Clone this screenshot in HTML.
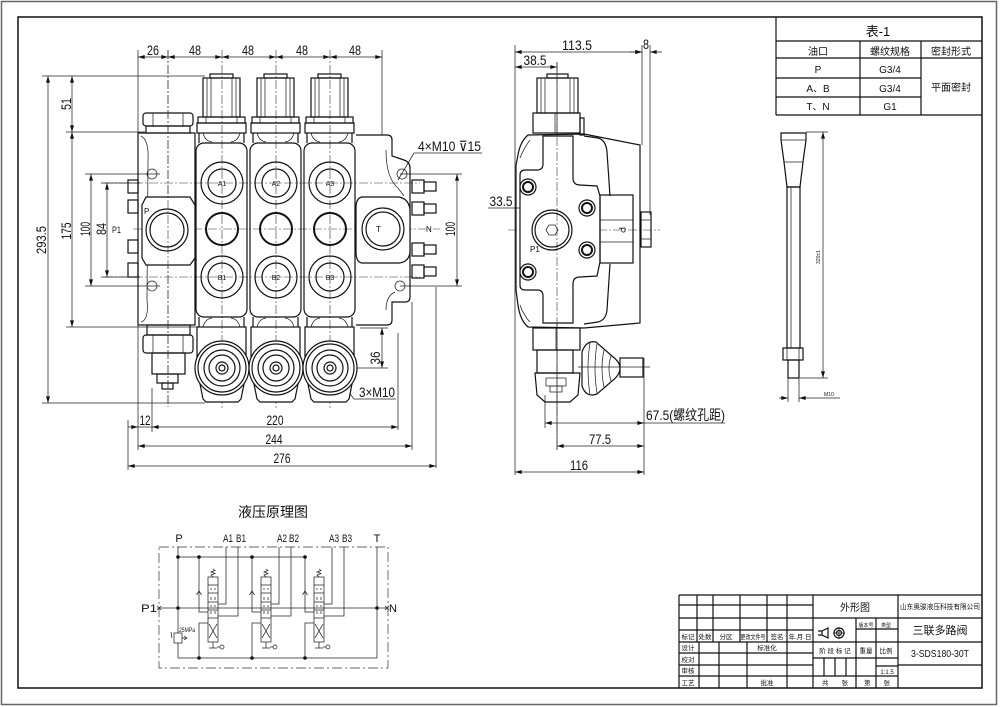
<!DOCTYPE html>
<html><head><meta charset="utf-8"><style>
html,body{margin:0;padding:0;background:#fff}
svg{display:block}
.l{stroke:#111;stroke-width:1.2;fill:none}
.w{stroke:#111;stroke-width:1.2;fill:#fff}
.t{stroke:#222;stroke-width:0.75;fill:none}
.c{stroke:#333;stroke-width:0.6;fill:none;stroke-dasharray:9 2 2 2}
.k{stroke:#111;stroke-width:2;fill:none}
text{font-family:"Liberation Sans",sans-serif;fill:#111}
.cj{font-family:"Liberation Sans","Noto Sans CJK SC",sans-serif}
</style></head><body>
<svg width="1000" height="707" viewBox="0 0 1000 707" xmlns="http://www.w3.org/2000/svg">
<defs>
<marker id="ar" viewBox="0 0 10 6" refX="10" refY="3" markerWidth="9" markerHeight="4" orient="auto-start-reverse" markerUnits="userSpaceOnUse"><path d="M0,0 L10,3 L0,6 z" fill="#111"/></marker>
<g id="sec">
 <rect class="l" x="210" y="74" width="23" height="4"/>
 <rect class="l" x="203" y="78" width="37" height="39"/>
 <path class="t" d="M207,78V117M211,78V117M232,78V117M236,78V117"/>
 <rect class="l" x="198" y="117" width="47" height="6"/>
 <path class="t" d="M206,117V123M237,117V123"/>
 <rect class="l" x="197" y="123" width="49" height="10"/>
 <path class="l" d="M199,133 L199,143 M244,133 L244,143"/>
 <path class="t" d="M203,133 Q205,141 212,142 M240,133 Q238,141 231,142"/>
 <rect class="l" x="196" y="143" width="51" height="174" rx="8"/>
 <circle class="l" cx="222" cy="183" r="21"/>
 <circle class="l" cx="222" cy="183" r="14"/>
 <circle class="k" cx="222" cy="229" r="16"/>
 <circle class="l" cx="222" cy="277" r="21"/>
 <circle class="l" cx="222" cy="277" r="14"/>
 <path class="l" d="M199,317 L199,327 M244,317 L244,327"/>
 <path class="t" d="M203,327 Q205,319 212,318 M240,327 Q238,319 231,318"/>
 <rect class="l" x="197" y="327" width="49" height="30"/>
 <path class="w" d="M200,384 L244,384 L241,399 L238,402 L206,402 L203,399 Z"/>
 <circle class="w" cx="222" cy="368" r="27"/>
 <circle class="l" cx="222" cy="368" r="24"/>
 <circle class="l" cx="222" cy="368" r="18"/>
 <circle class="l" cx="222" cy="368" r="13"/>
 <circle class="l" cx="222" cy="368" r="6"/>
 <circle class="l" cx="222" cy="368" r="3"/>
</g>
<g id="vv">
 <path class="t" d="M0,557 V612 H9 M0,658 V623 H9"/>
 <path class="t" d="M-2.5,595 L0,591 L2.5,595"/>
 <rect class="t" x="9" y="577" width="10" height="65"/>
 <path class="t" d="M9,585H19M9,593H19M9,602H19M9,610H19M9,618H19"/>
 <path class="t" d="M11,589h2M15,589h2M12,597v3M16,597v3M11,606h2M15,606h2M12,614v-3M16,614v-3"/>
 <path class="t" d="M10,624 L18,638 M18,624 L10,638"/>
 <path class="t" d="M14,577 L12,575 L16,573.5 L12,572 L16,570.5 L14,569"/>
 <path class="t" d="M14,642 V648 M10,648 H18 M18,647 H21"/>
 <circle class="t" cx="23" cy="647" r="2"/>
 <path class="t" d="M27,547 V604 H19 M39,547 V616 H19"/>
</g>
</defs>
<rect width="1000" height="707" fill="#fff"/>
<!-- frames -->
<rect x="1.5" y="1.5" width="995" height="703" fill="none" stroke="#666" stroke-width="1.5"/>
<rect x="18" y="17" width="964" height="671" fill="none" stroke="#111" stroke-width="1.5"/>

<!-- ===== FRONT VIEW ===== -->
<path class="c" d="M168,50V407 M222,50V408 M276,50V408 M330,50V408"/>
<path class="c" d="M104,183H420 M133,229H440 M104,277H420"/>
<path class="t" d="M138,50V133 M382,50V135 M42,76H205 M42,403H205 M66,132H145 M66,327H200 M85,174H160 M85,286H160 M101,183H140 M101,277H140 M400,174H462 M400,286H462 M360,328H388 M195,368H388 M128,420V470 M138,325V450 M152,388V432 M398,333V430 M412,302V450 M436,287V468"/>
<line class="t" x1="138" y1="57" x2="168" y2="57" marker-start="url(#ar)" marker-end="url(#ar)"/>
<line class="t" x1="168" y1="57" x2="222" y2="57" marker-start="url(#ar)" marker-end="url(#ar)"/>
<line class="t" x1="222" y1="57" x2="276" y2="57" marker-start="url(#ar)" marker-end="url(#ar)"/>
<line class="t" x1="276" y1="57" x2="330" y2="57" marker-start="url(#ar)" marker-end="url(#ar)"/>
<line class="t" x1="330" y1="57" x2="382" y2="57" marker-start="url(#ar)" marker-end="url(#ar)"/>
<g font-size="14" text-anchor="middle">
<text x="153" y="55" textLength="12" lengthAdjust="spacingAndGlyphs">26</text>
<text x="195" y="55" textLength="12" lengthAdjust="spacingAndGlyphs">48</text>
<text x="248" y="55" textLength="12" lengthAdjust="spacingAndGlyphs">48</text>
<text x="302" y="55" textLength="12" lengthAdjust="spacingAndGlyphs">48</text>
<text x="355" y="55" textLength="12" lengthAdjust="spacingAndGlyphs">48</text>
</g>
<line class="t" x1="48" y1="76" x2="48" y2="403" marker-start="url(#ar)" marker-end="url(#ar)"/>
<line class="t" x1="72" y1="76" x2="72" y2="132" marker-start="url(#ar)" marker-end="url(#ar)"/>
<line class="t" x1="72" y1="132" x2="72" y2="327" marker-start="url(#ar)" marker-end="url(#ar)"/>
<line class="t" x1="91" y1="174" x2="91" y2="286" marker-start="url(#ar)" marker-end="url(#ar)"/>
<line class="t" x1="107" y1="183" x2="107" y2="277" marker-start="url(#ar)" marker-end="url(#ar)"/>
<g font-size="14" text-anchor="middle">
<text transform="translate(46,240) rotate(-90)" textLength="28" lengthAdjust="spacingAndGlyphs">293.5</text>
<text transform="translate(71,104) rotate(-90)" textLength="12" lengthAdjust="spacingAndGlyphs">51</text>
<text transform="translate(71,231) rotate(-90)" textLength="17" lengthAdjust="spacingAndGlyphs">175</text>
<text transform="translate(90,229) rotate(-90)" textLength="14" lengthAdjust="spacingAndGlyphs">100</text>
<text transform="translate(106,229) rotate(-90)" textLength="12" lengthAdjust="spacingAndGlyphs">84</text>
<text transform="translate(455,229) rotate(-90)" textLength="14" lengthAdjust="spacingAndGlyphs">100</text>
<text transform="translate(380,358) rotate(-90)" textLength="13" lengthAdjust="spacingAndGlyphs">36</text>
</g>
<text x="112" y="233" font-size="9" textLength="9" lengthAdjust="spacingAndGlyphs">P1</text>
<line class="t" x1="457" y1="174" x2="457" y2="286" marker-start="url(#ar)" marker-end="url(#ar)"/>
<line class="t" x1="382" y1="328" x2="382" y2="368" marker-start="url(#ar)" marker-end="url(#ar)"/>
<line class="t" x1="128" y1="427" x2="138" y2="427" marker-end="url(#ar)"/>
<line class="t" x1="138" y1="427" x2="152" y2="427"/>
<line class="t" x1="152" y1="427" x2="398" y2="427" marker-start="url(#ar)" marker-end="url(#ar)"/>
<line class="t" x1="138" y1="446" x2="412" y2="446" marker-start="url(#ar)" marker-end="url(#ar)"/>
<line class="t" x1="128" y1="466" x2="436" y2="466" marker-start="url(#ar)" marker-end="url(#ar)"/>
<g font-size="14" text-anchor="middle">
<text x="145" y="425" textLength="11" lengthAdjust="spacingAndGlyphs">12</text>
<text x="275" y="425" textLength="17" lengthAdjust="spacingAndGlyphs">220</text>
<text x="274" y="444" textLength="17" lengthAdjust="spacingAndGlyphs">244</text>
<text x="282" y="463" textLength="17" lengthAdjust="spacingAndGlyphs">276</text>
</g>
<path class="t" d="M482,153 H414 L398,180"/>
<text x="418" y="151" font-size="14" textLength="63" lengthAdjust="spacingAndGlyphs">4×M10 ⊽15</text>
<path class="t" d="M396,399 H354 L330,368"/>
<text x="359" y="397" font-size="14" textLength="36" lengthAdjust="spacingAndGlyphs">3×M10</text>

<!-- left inlet section -->
<rect class="l" x="128" y="180" width="10" height="13"/>
<rect class="l" x="128" y="200" width="10" height="13"/>
<rect class="l" x="128" y="240" width="10" height="13"/>
<rect class="l" x="128" y="263" width="10" height="14"/>
<rect class="l" x="143" y="113" width="50" height="13" rx="3"/>
<path class="t" d="M153,113V126M183,113V126"/>
<rect class="l" x="146" y="126" width="44" height="7"/>
<rect class="l" x="138" y="133" width="57" height="192"/>
<path class="t" d="M141,136 Q149,140 148,160 L147,300 Q149,320 141,322"/>
<circle class="t" cx="152" cy="174" r="5"/>
<circle class="t" cx="152" cy="286" r="5"/>
<path class="w" d="M146,197 L190,197 L195,205 L195,258 L190,265 L146,265 L142,258 L142,205 Z"/>
<circle class="l" cx="167" cy="230" r="21"/>
<circle class="l" cx="167" cy="230" r="17"/>
<text x="144" y="214" font-size="8">P</text>
<rect class="l" x="147" y="325" width="43" height="10"/>
<rect class="l" x="143" y="335" width="50" height="18" rx="3"/>
<path class="t" d="M153,335V353M183,335V353"/>
<rect class="l" x="152" y="353" width="33" height="21"/>
<rect class="l" x="157" y="374" width="21" height="9"/>
<rect class="l" x="162" y="383" width="11" height="6"/>
<path class="c" d="M168,50V407"/>

<use href="#sec"/>
<use href="#sec" x="54"/>
<use href="#sec" x="108"/>
<g font-size="7" text-anchor="middle">
<text x="222" y="186">A1</text><text x="276" y="186">A2</text><text x="330" y="186">A3</text>
<text x="222" y="280">B1</text><text x="276" y="280">B2</text><text x="330" y="280">B3</text>
</g>

<!-- right outlet section -->
<path class="l" d="M356,135 L387,135 Q392,135 392,140 L392,156 L404,160 Q410,162 410,168 L410,297 Q410,302 405,302 L392,302 L392,320 Q392,325 387,325 L356,325"/>
<path class="t" d="M386,150 Q386,178 398,188 L404,196 M386,310 Q386,296 395,292"/>
<circle class="t" cx="402" cy="174" r="5"/>
<circle class="t" cx="400" cy="286" r="5"/>
<path class="w" d="M362,197 L399,197 Q409,199 410,210 L410,252 Q409,262 399,263 L362,263 Q356,262 356,252 L356,208 Q356,198 362,197 Z"/>
<circle class="l" cx="383" cy="229" r="21"/>
<circle class="l" cx="383" cy="229" r="17"/>
<text x="376" y="232" font-size="8">T</text>
<text x="426" y="232" font-size="8">N</text>
<g class="l">
<rect x="412" y="180" width="12" height="13"/><rect x="424" y="182" width="12" height="9"/>
<rect x="412" y="202" width="12" height="13"/><rect x="424" y="204" width="12" height="9"/>
<rect x="412" y="243" width="12" height="13"/><rect x="424" y="245" width="12" height="9"/>
<rect x="412" y="265" width="12" height="13"/><rect x="424" y="267" width="12" height="9"/>
</g>

<!-- ===== SIDE VIEW ===== -->
<path class="t" d="M515,45V475 M642,45V145 M650,45V215 M557,62V450 M644,358V475 M545,395V428"/>
<path class="c" d="M508,230H660"/>
<line class="t" x1="515" y1="52" x2="642" y2="52" marker-start="url(#ar)" marker-end="url(#ar)"/>
<line class="t" x1="630" y1="52" x2="642" y2="52" marker-end="url(#ar)"/>
<line class="t" x1="662" y1="52" x2="650" y2="52" marker-end="url(#ar)"/>
<line class="t" x1="515" y1="67" x2="557" y2="67" marker-start="url(#ar)" marker-end="url(#ar)"/>
<g font-size="14" text-anchor="middle">
<text x="577" y="50" textLength="30" lengthAdjust="spacingAndGlyphs">113.5</text>
<text x="646" y="49" textLength="6" lengthAdjust="spacingAndGlyphs">8</text>
<text x="535" y="65" textLength="23" lengthAdjust="spacingAndGlyphs">38.5</text>
<text x="501" y="206" textLength="23" lengthAdjust="spacingAndGlyphs">33.5</text>
<text x="600" y="444" textLength="22" lengthAdjust="spacingAndGlyphs">77.5</text>
<text x="579" y="470" textLength="18" lengthAdjust="spacingAndGlyphs">116</text>
</g>
<path class="t" d="M488,208H548"/>
<line class="t" x1="545" y1="423" x2="644" y2="423" marker-start="url(#ar)" marker-end="url(#ar)"/>
<line class="t" x1="557" y1="446" x2="644" y2="446" marker-start="url(#ar)" marker-end="url(#ar)"/>
<line class="t" x1="515" y1="472" x2="644" y2="472" marker-start="url(#ar)" marker-end="url(#ar)"/>
<path class="t" d="M644,423H725"/>
<text x="646" y="420" font-size="14" class="cj" textLength="79" lengthAdjust="spacingAndGlyphs">67.5(螺纹孔距)</text>
<rect class="l" x="547" y="74" width="21" height="4"/>
<rect class="l" x="537" y="78" width="41" height="35"/>
<path class="t" d="M541,78V113M545,78V113M570,78V113M574,78V113"/>
<rect class="l" x="533" y="113" width="47" height="20"/>
<path class="t" d="M555,113V133"/>
<rect class="l" x="580" y="118" width="4" height="17"/>
<path class="l" d="M528,135 L584,134 L640,145 L640,323 L584,328 L528,327 Q520,320 518,305 L516,290 L516,165 L518,155 Q520,142 528,135 Z"/>
<path class="t" d="M520,158 Q524,148 530,140 M520,305 Q524,316 530,322"/>
<path class="l" d="M584,136 L598,138 Q606,140 607,152 L610,196 M610,264 L607,310 Q606,320 598,322 L584,324"/>
<path class="w" d="M543,136 L573,136 L573,178 Q573,185 580,185 L597,186 L600,196 L600,262 L597,276 L580,277 Q573,277 573,284 L573,323 L543,323 L543,296 Q543,290 537,290 L525,290 Q520,290 520,285 L520,175 Q520,170 525,170 L537,170 Q543,170 543,164 Z"/>
<path class="c" d="M557,62V450"/>
<rect class="l" x="600" y="195" width="33" height="68"/>
<path class="t" d="M600,220H633M600,242H633"/>
<rect class="l" x="641" y="212" width="10" height="35"/>
<path class="t" d="M641,220H651M641,239H651"/>
<text transform="translate(619,230) rotate(90)" font-size="9" text-anchor="middle">P</text>
<g>
<circle class="l" cx="528" cy="187" r="8"/><circle class="k" cx="528" cy="187" r="5" stroke-width="1.6"/>
<circle class="l" cx="528" cy="272" r="8"/><circle class="k" cx="528" cy="272" r="5" stroke-width="1.6"/>
<circle class="l" cx="587" cy="208" r="8"/><circle class="k" cx="587" cy="208" r="5" stroke-width="1.6"/>
<circle class="l" cx="587" cy="250" r="8"/><circle class="k" cx="587" cy="250" r="5" stroke-width="1.6"/>
</g>
<circle class="l" cx="552" cy="230" r="20"/>
<circle class="l" cx="552" cy="230" r="17"/>
<path class="t" d="M546,230 L549,225 L555,225 L558,230 L555,235 L549,235 Z"/>
<text x="530" y="252" font-size="8">P1</text>
<rect class="l" x="533" y="328" width="47" height="22"/>
<path class="t" d="M556,328V350"/>
<rect class="l" x="537" y="350" width="36" height="23"/>
<path class="l" d="M535,373 L580,373 L578,395 L570,402 L545,402 L537,395 Z"/>
<rect class="t" x="546" y="378" width="20" height="8"/>
<rect class="t" x="550" y="386" width="12" height="6"/>
<path class="l" d="M582,352 Q586,340 596,342 L612,356 Q620,362 620,368 Q620,375 612,381 L597,394 Q586,398 582,386 Z"/>
<path class="t" d="M590,343 Q586,368 590,395 M597,344 Q593,368 597,393 M604,350 Q600,368 604,387 M611,356 Q607,368 611,381"/>
<rect class="l" x="620" y="358" width="23" height="19"/>
<path class="t" d="M578,367H650"/>

<!-- ===== TABLE ===== -->
<path class="l" d="M776,17V115 M776,41H982 M776,58H982 M776,78H921 M776,97H921 M776,115H982 M860,41V115 M921,41V115"/>
<g class="cj" text-anchor="middle">
<text x="878" y="36" font-size="13">表-1</text>
<text x="818" y="55" font-size="10">油口</text>
<text x="890" y="55" font-size="10">螺纹规格</text>
<text x="951" y="55" font-size="10">密封形式</text>
<text x="818" y="73" font-size="10">P</text>
<text x="890" y="73" font-size="10">G3/4</text>
<text x="818" y="92" font-size="10">A、B</text>
<text x="890" y="92" font-size="10">G3/4</text>
<text x="818" y="110" font-size="10">T、N</text>
<text x="890" y="110" font-size="10">G1</text>
<text x="951" y="91" font-size="10">平面密封</text>
</g>

<!-- ===== HANDLE ===== -->
<path class="l" d="M781,133 L806,133 L806,140 L803,162 L800,187 L787,187 L784,162 L781,140 Z"/>
<path class="t" d="M781,140H806M784,162H803"/>
<rect class="l" x="787" y="187" width="13" height="161"/>
<path class="t" d="M791,187V348"/>
<rect class="l" x="783" y="348" width="20" height="12"/>
<path class="t" d="M787,348V360M799,348V360"/>
<rect class="l" x="788" y="360" width="11" height="18"/>
<path class="t" d="M806,132H828 M800,378H828 M788,378V402 M799,378V402"/>
<line class="t" x1="823" y1="132" x2="823" y2="378" marker-start="url(#ar)" marker-end="url(#ar)"/>
<line class="t" x1="779" y1="398" x2="788" y2="398" marker-end="url(#ar)"/>
<line class="t" x1="840" y1="398" x2="799" y2="398" marker-end="url(#ar)"/>
<text transform="translate(820,257) rotate(-90)" font-size="5" text-anchor="middle">320±1</text>
<text x="824" y="396" font-size="5">M10</text>

<!-- ===== SCHEMATIC ===== -->
<text x="273" y="517" font-size="14" class="cj" text-anchor="middle">液压原理图</text>
<rect x="159" y="547" width="229" height="121" fill="none" stroke="#333" stroke-width="0.7" stroke-dasharray="10 3 2 3"/>
<g font-size="11" text-anchor="middle">
<text x="179" y="542">P</text>
<text x="228" y="542" textLength="10" lengthAdjust="spacingAndGlyphs">A1</text>
<text x="241" y="542" textLength="10" lengthAdjust="spacingAndGlyphs">B1</text>
<text x="282" y="542" textLength="10" lengthAdjust="spacingAndGlyphs">A2</text>
<text x="294" y="542" textLength="10" lengthAdjust="spacingAndGlyphs">B2</text>
<text x="334" y="542" textLength="10" lengthAdjust="spacingAndGlyphs">A3</text>
<text x="347" y="542" textLength="10" lengthAdjust="spacingAndGlyphs">B3</text>
<text x="377" y="542">T</text>
<text x="149" y="612" textLength="16" lengthAdjust="spacingAndGlyphs">P1</text>
<text x="393" y="612">N</text>
</g>
<path class="t" d="M178,557H305 M159,608H387 M178,658H377 M178,547V633 M178,643V658 M377,547V658"/>
<path class="t" d="M157,606l4,4M161,606l-4,4M385,606l4,4M389,606l-4,4"/>
<use href="#vv" transform="translate(199,0)"/>
<use href="#vv" transform="translate(252,0)"/>
<use href="#vv" transform="translate(305,0)"/>
<g fill="#111">
<circle cx="178" cy="557" r="1.8"/><circle cx="199" cy="557" r="1.8"/><circle cx="252" cy="557" r="1.8"/><circle cx="305" cy="557" r="1.8"/>
<circle cx="178" cy="608" r="1.8"/><circle cx="377" cy="608" r="1.8"/>
<circle cx="199" cy="658" r="1.8"/><circle cx="252" cy="658" r="1.8"/><circle cx="305" cy="658" r="1.8"/>
</g>
<rect class="t" x="174" y="633" width="8" height="10"/>
<path class="t" d="M172,638 L171,632 M182,638 H186 M184,636 L187,638 L184,640"/>
<text x="179" y="632" font-size="6" textLength="16" lengthAdjust="spacingAndGlyphs">25MPa</text>

<!-- ===== TITLE BLOCK ===== -->
<g class="l" stroke-width="1">
<path d="M679,595H982 M679,595V688 M813,595V688 M898,595V688"/>
<path d="M679,605H813 M679,618H813 M679,630H813 M679,642H982 M679,653H813 M679,665H813 M679,676H813"/>
<path d="M697,595V642 M713,595V642 M740,595V642 M767,595V642 M787,595V642"/>
<path d="M699,642V688 M719,642V688 M747,642V688 M787,642V688"/>
<path d="M813,618H982 M856,618V688 M876,618V688 M856,629H898 M813,658H898 M876,666H898 M813,676H898 M898,665H982"/>
<path d="M824,658V676 M835,658V676 M846,658V676"/>
</g>
<g class="cj" font-size="6.5" text-anchor="middle">
<text x="688" y="639">标记</text><text x="705" y="639">处数</text><text x="726" y="639">分区</text>
<text x="753" y="639" textLength="25" lengthAdjust="spacingAndGlyphs">更改文件号</text><text x="777" y="639">签名</text><text x="800" y="639">年.月.日</text>
<text x="688" y="650">设计</text><text x="767" y="650">标准化</text>
<text x="688" y="662">校对</text><text x="688" y="673">审核</text>
<text x="688" y="685">工艺</text><text x="767" y="685">批准</text>
<text x="866" y="627" font-size="5">版本号</text><text x="886" y="627" font-size="5">类型</text>
<text x="835" y="653">阶 段 标 记</text><text x="866" y="653">重量</text><text x="886" y="653">比例</text>
<text x="887" y="674" font-size="6">1:1.5</text>
<text x="835" y="685">共　　张</text><text x="877" y="685">第　　张</text>
<text x="855" y="611" font-size="10">外形图</text>
<text x="940" y="609" font-size="7" textLength="80" lengthAdjust="spacingAndGlyphs">山东奥骏液压科技有限公司</text>
<text x="940" y="634" font-size="11">三联多路阀</text>
<text x="940" y="657" font-size="10" textLength="58" lengthAdjust="spacingAndGlyphs">3-SDS180-30T</text>
</g>
<path class="l" d="M822,631 L828,628 L828,638 L822,635 Z M818,631H822M818,635H822"/>
<circle class="l" cx="839" cy="633" r="5"/>
<circle class="l" cx="839" cy="633" r="2.5"/>
<path class="t" d="M833,633H845 M839,627V639"/>
</svg>
</body></html>
